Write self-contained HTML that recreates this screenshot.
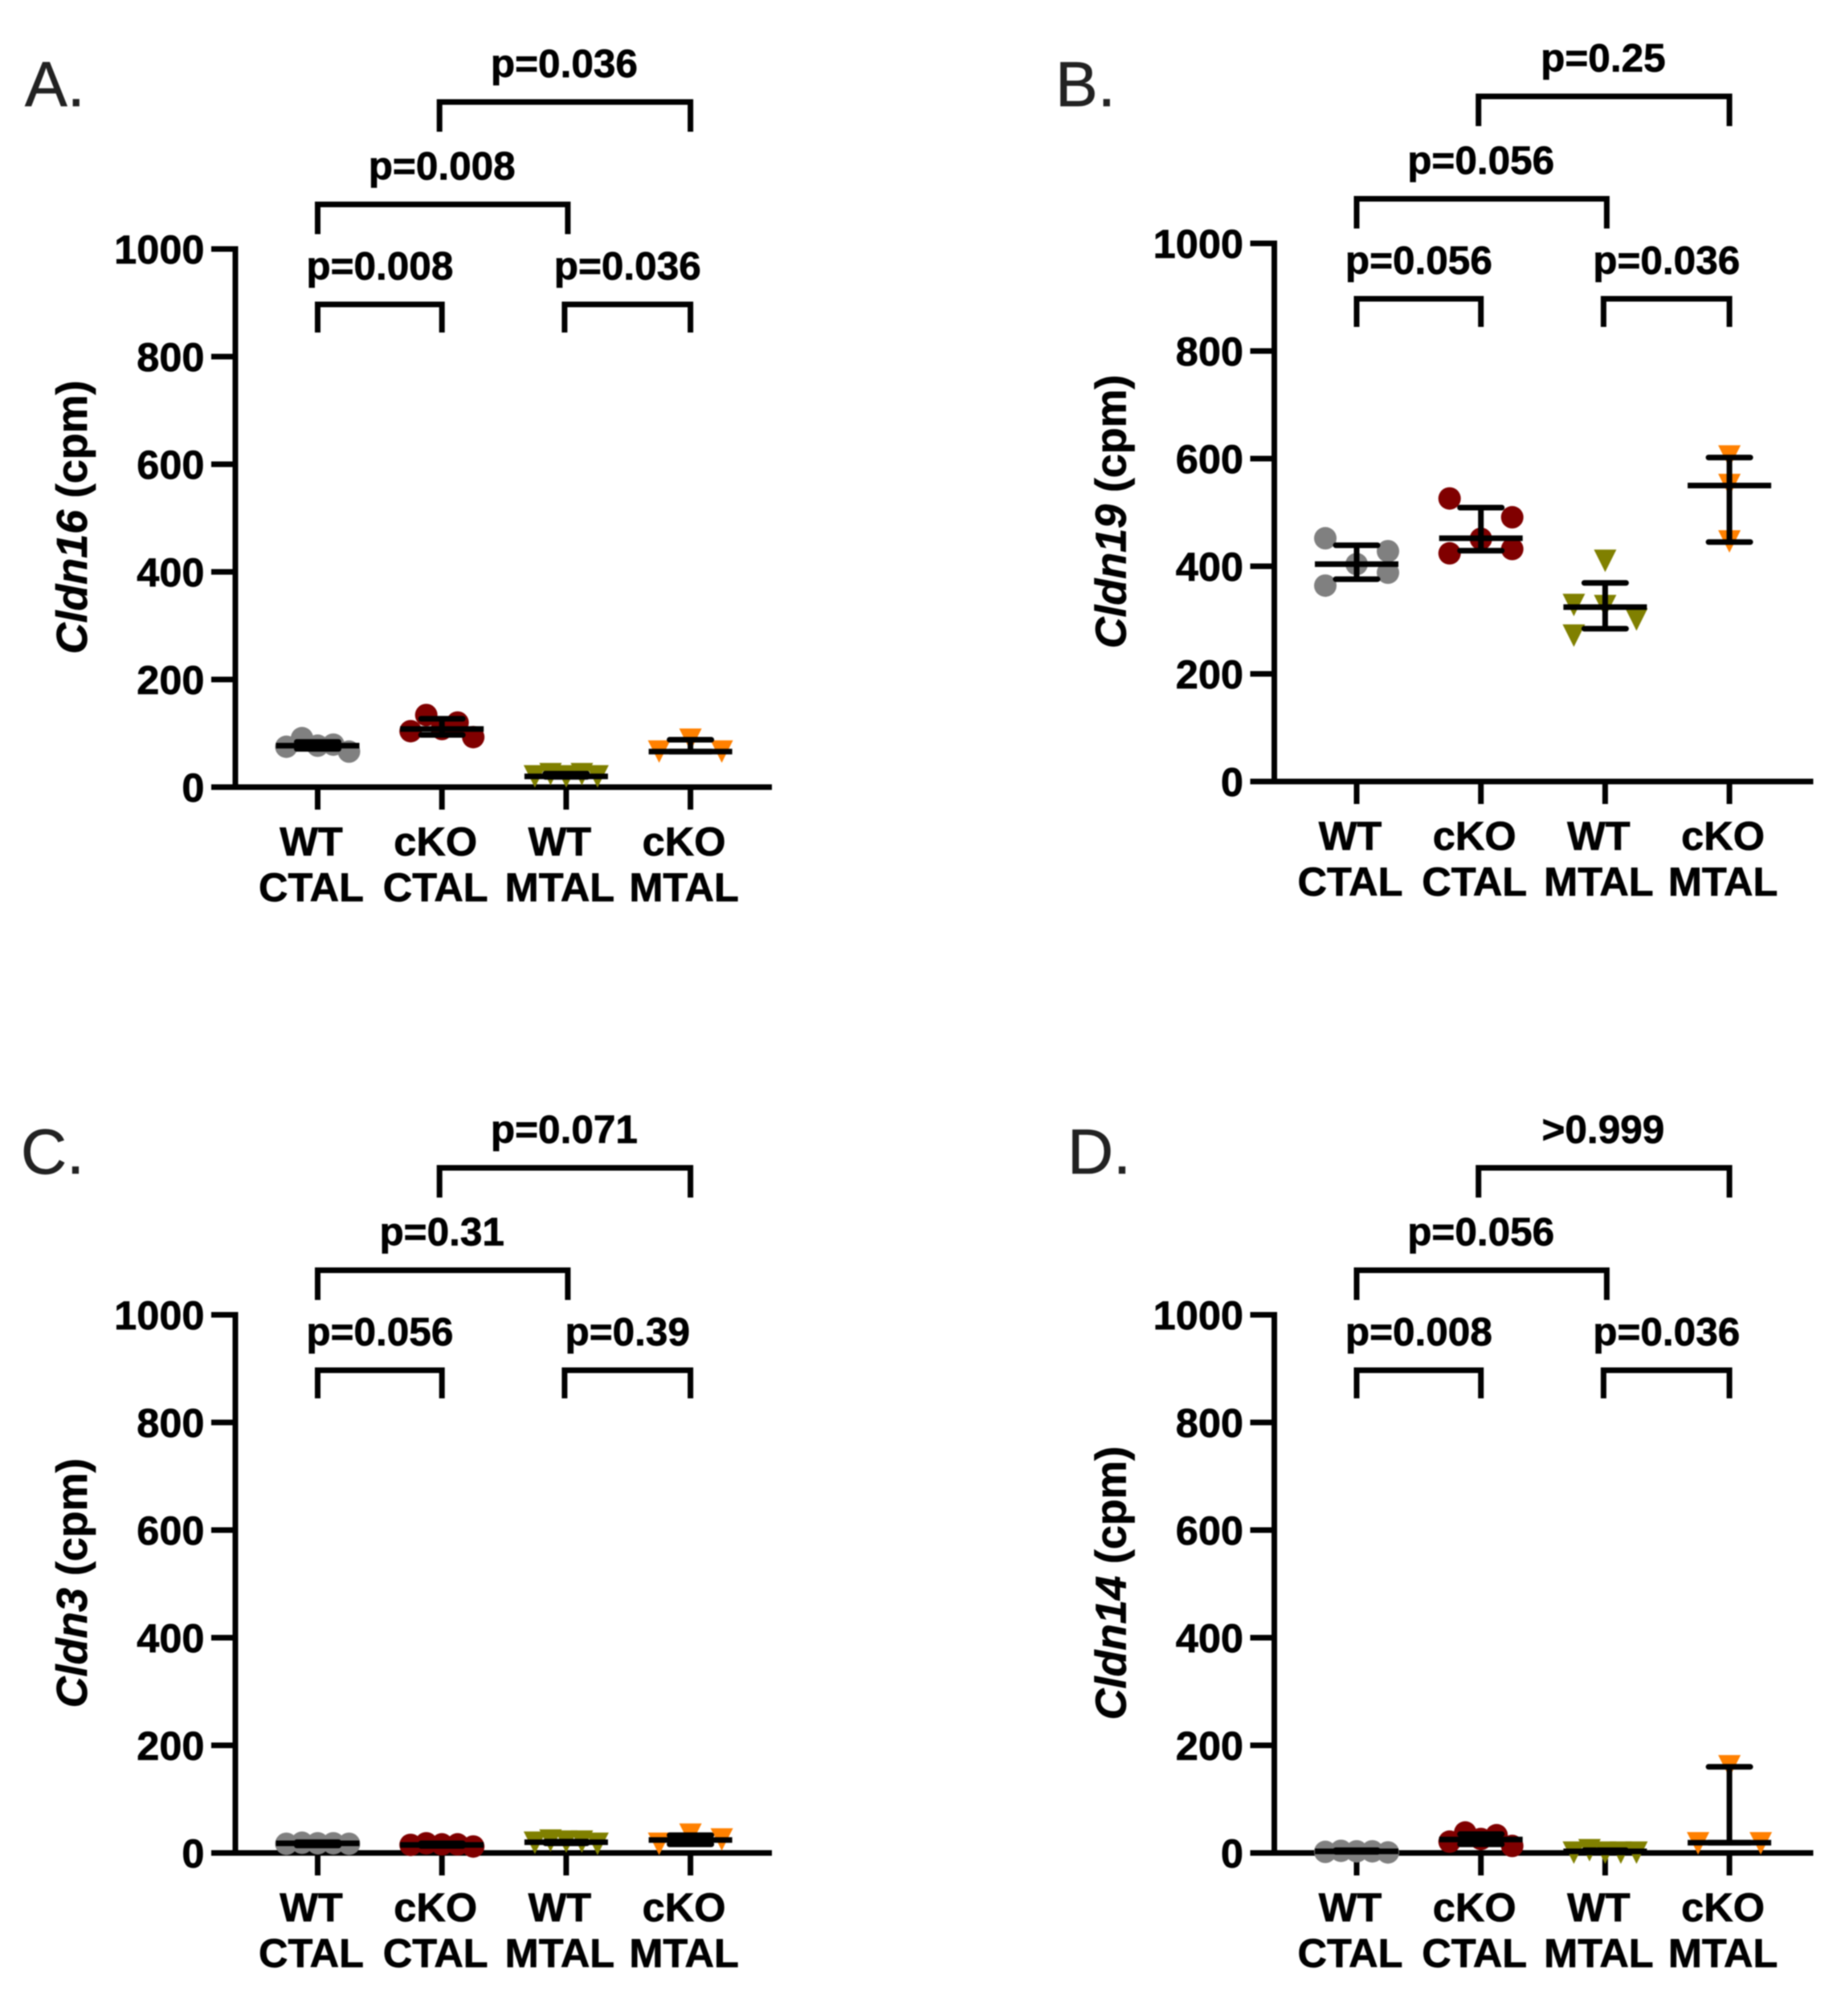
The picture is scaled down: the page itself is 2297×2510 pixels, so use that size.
<!DOCTYPE html>
<html lang="en">
<head>
<meta charset="utf-8">
<title>Claudin expression panels</title>
<style>
html,body{margin:0;padding:0;background:#fff;}
#figure{display:block;filter:blur(0.9px);}
text{font-family:"Liberation Sans",Arial,sans-serif;fill:#000;}
text[font-weight="bold"]{stroke:#000;stroke-width:0.7px;}
</style>
</head>
<body>
<svg id="figure" xmlns="http://www.w3.org/2000/svg" width="2297" height="2510" viewBox="0 0 2297 2510"></svg>
<script>
// ---- shared categories and ticks ----
const categoryTop = ["WT", "cKO", "WT", "cKO"];
const categoryBottom = ["CTAL", "CTAL", "MTAL", "MTAL"];
const categoryKeys = ["wt-ctal", "cko-ctal", "wt-mtal", "cko-mtal"];
const seriesColors = ["#808080", "#800000", "#808000", "#ff8000"];
const yTicks = [0, 200, 400, 600, 800, 1000];
const panelLetters = ["A.", "B.", "C.", "D."];
const genes = ["Cldn16", "Cldn19", "Cldn3", "Cldn14"];

// ---- Panel A values (cpm) ----
const aPoints = [[75, 91, 77, 79, 66], [104, 134, 108, 120, 93], [20, 24, 20, 24, 20], [66, 88, 66]];
const aMedian = [77, 108, 20, 66];
const aUpper = [84, 127, 25, 88];
const aLower = [71, 97, 19, 66];
const aSlots = [[-2, -1, 0, 1, 2], [-2, -1, 0, 1, 2], [-2, -1, 0, 1, 2], [-2, 0, 2]];
const aPvalues = ["p=0.008", "p=0.036", "p=0.008", "p=0.036"];

// ---- Panel B values (cpm) ----
const bPoints = [[452, 428, 404, 388, 364], [526, 491, 451, 432, 424], [410, 328, 326, 301, 271], [604, 551, 446]];
const bMedian = [404, 452, 324, 550];
const bUpper = [439, 509, 369, 602];
const bLower = [376, 429, 284, 445];
const bSlots = [[-2, 2, 0, 2, -2], [-2, 2, 0, 2, -2], [0, -2, 0, 2, -2], [0, 0, 0]];
const bPvalues = ["p=0.056", "p=0.036", "p=0.056", "p=0.25"];

// ---- Panel C values (cpm) ----
const cPoints = [[17, 19, 18, 18, 17], [15, 18, 16, 16, 12], [19, 23, 21, 21, 17], [17, 34, 25]];
const cMedian = [18, 15, 20, 24];
const cUpper = [20, 18, 21, 33];
const cLower = [14, 13, 18, 16];
const cSlots = [[-2, -1, 0, 1, 2], [-2, -1, 0, 1, 2], [-2, -1, 0, 1, 2], [-2, 0, 2]];
const cPvalues = ["p=0.056", "p=0.39", "p=0.31", "p=0.071"];

// ---- Panel D values (cpm) ----
const dPoints = [[2, 4, 3, 3, 1], [21, 38, 26, 33, 13], [0.5, 5, 0.5, 0.5, 0.5], [18, 161, 18]];
const dMedian = [3, 25, 3, 19];
const dUpper = [5, 35, 5, 160];
const dLower = [2, 16, 1, 19];
const dSlots = [[-2, -1, 0, 1, 2], [-2, -1, 0, 1, 2], [-2, -1, 0, 1, 2], [-2, 0, 2]];
const dPvalues = ["p=0.008", "p=0.036", "p=0.056", ">0.999"];

const panels = [
  {key: "a", points: aPoints, median: aMedian, upper: aUpper, lower: aLower, slots: aSlots, pvalues: aPvalues},
  {key: "b", points: bPoints, median: bMedian, upper: bUpper, lower: bLower, slots: bSlots, pvalues: bPvalues},
  {key: "c", points: cPoints, median: cMedian, upper: cUpper, lower: cLower, slots: cSlots, pvalues: cPvalues},
  {key: "d", points: dPoints, median: dMedian, upper: dUpper, lower: dLower, slots: dSlots, pvalues: dPvalues}
];

// ---- layout ----
const NS = "http://www.w3.org/2000/svg";
const svg = document.getElementById("figure");
const originsX = [293, 1586.5, 293, 1586.5];
const originsY = [980, 973, 2307, 2307];
const axisEnds = [668, 671, 668, 671];
const letterX = [31, 1314, 26, 1329];
const letterBaselines = [132, 132, 1461, 1461];
const STROKE = 7;

function make(tag, attrs, parent, content) {
  const el = document.createElementNS(NS, tag);
  for (const k in attrs) el.setAttribute(k, attrs[k]);
  if (content !== undefined) el.textContent = content;
  parent.appendChild(el);
  return el;
}
function line(parent, x1, y1, x2, y2, cap) {
  return make("line", {x1: x1, y1: y1, x2: x2, y2: y2, stroke: "#000", "stroke-width": STROKE, "stroke-linecap": cap || "butt"}, parent);
}

panels.forEach(function (panel, p) {
  const ox = originsX[p];
  const oy = originsY[p];
  const yScale = function (v) { return oy - v * 0.67; };
  const xScale = function (i) { return ox + 102.5 + i * 154.7; };
  const labelX = function (i) { return xScale(i) - 8; };

  const group = make("g", {}, svg);
  
  

  const letter = make("text", {x: letterX[p], y: letterBaselines[p], "font-size": 79, style: "fill:#222;stroke:#222;stroke-width:0.7px"}, group, panelLetters[p]);
  
  

  // y axis title
  const title = make("text", {
    transform: "translate(" + (ox - 185) + "," + (oy - 336) + ") rotate(-90)",
    "text-anchor": "middle", "font-size": 53.8, "font-weight": "bold"
  }, group);
  
  
  make("tspan", {"font-style": "italic"}, title, genes[p]);
  make("tspan", {}, title, " (cpm)");

  // axes
  const yAxis = line(group, ox, yScale(1000) - STROKE / 2, ox, oy + STROKE / 2);
  
  
  const xAxis = line(group, ox - 30, oy, ox + axisEnds[p], oy);
  
  

  yTicks.forEach(function (t) {
    const tick = line(group, ox - 30, yScale(t), ox, yScale(t));
    
    
    const label = make("text", {x: ox - 38.5, y: yScale(t) + 18, "text-anchor": "end", "font-size": 50.5, "font-weight": "bold"}, group, String(t));
    
    
  });

  categoryKeys.forEach(function (key, i) {
    const tick = line(group, xScale(i), oy, xScale(i), oy + 28);
    
    
    const top = make("text", {x: labelX(i), y: oy + 85, "text-anchor": "middle", "font-size": 50.5, "font-weight": "bold"}, group, categoryTop[i]);
    
    
    const bottom = make("text", {x: labelX(i), y: oy + 142, "text-anchor": "middle", "font-size": 50.5, "font-weight": "bold"}, group, categoryBottom[i]);
    
    
  });

  // data marks
  panel.points.forEach(function (values, i) {
    const series = make("g", {fill: seriesColors[i]}, group);
    
    
    values.forEach(function (v, j) {
      const cx = xScale(i) + panel.slots[i][j] * 19.5;
      const cy = yScale(v);
      let mark;
      if (i < 2) {
        mark = make("circle", {cx: cx, cy: cy, r: 14}, series);
      } else {
        mark = make("polygon", {points: (cx - 14) + "," + (cy - 14) + " " + (cx + 14) + "," + (cy - 14) + " " + cx + "," + (cy + 14)}, series);
      }
      
      
    });
  });

  // median and error bars, drawn over marks
  panel.median.forEach(function (m, i) {
    const x = xScale(i);
    const stem = line(group, x, yScale(panel.upper[i]), x, yScale(panel.lower[i]));
    
    
    const capU = line(group, x - 26, yScale(panel.upper[i]), x + 26, yScale(panel.upper[i]), "round");
    
    
    const capL = line(group, x - 26, yScale(panel.lower[i]), x + 26, yScale(panel.lower[i]), "round");
    
    
    const med = line(group, x - 52, yScale(m), x + 52, yScale(m));
    
    
  });

  // significance brackets: from group, to group, height above axis
  const bracketFrom = [0, 2, 0, 1];
  const bracketTo = [1, 3, 2, 3];
  const bracketHeights = [601, 601, 725.5, 853];
  bracketFrom.forEach(function (from, b) {
    const x1 = xScale(from) + (b === 1 ? -2 : (b === 3 ? -3 : 0));
    const x2 = xScale(bracketTo[b]) + (b === 2 ? 2 : 0);
    const top = oy - bracketHeights[b];
    const bot = top + (b < 2 ? 35 : 37);
    const path = make("path", {
      d: "M" + x1 + " " + bot + "V" + top + "H" + x2 + "V" + bot,
      fill: "none", stroke: "#000", "stroke-width": STROKE
    }, group);
    
    
    const label = make("text", {
      x: (x1 + x2) / 2 + (b < 2 ? 0 : -1), y: top - 31,
      "text-anchor": "middle", "font-size": 49.5, "font-weight": "bold"
    }, group, panel.pvalues[b]);
    
    
  });
});
</script>
</body>
</html>
